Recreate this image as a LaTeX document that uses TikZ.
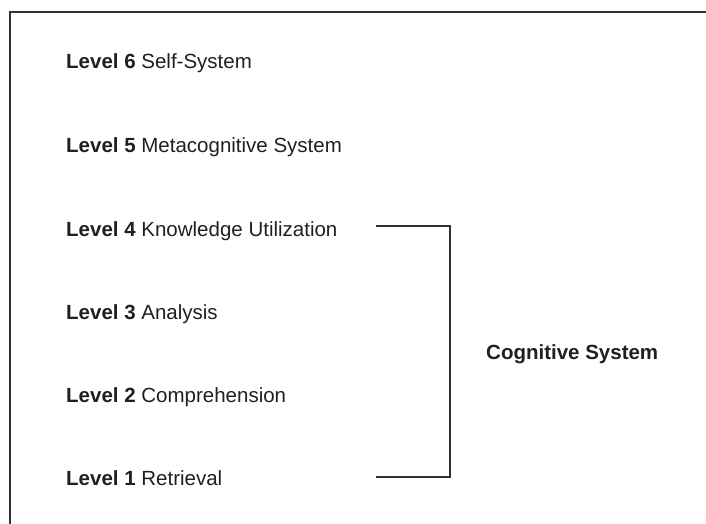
\documentclass[tikz,border=0pt]{standalone}
\usepackage{fontspec}
\setmainfont{Liberation Sans}
\definecolor{ink}{HTML}{231F20}
\definecolor{rule}{HTML}{333333}
\begin{document}
\begin{tikzpicture}[x=1pt,y=-1pt,
  lvl/.style={anchor=base west,inner sep=0pt,text=ink,font=\fontsize{20.5}{24}\selectfont},
  frame/.style={draw=rule,line width=1.4pt},
  brk/.style={draw=rule,line width=1.4pt}]
\useasboundingbox (0,0) rectangle (706,524);
\fill[white] (0,0) rectangle (706,524);
\draw[frame] (10,524) -- (10,12) -- (706,12);
\node[lvl] (l6) at (66,69) {\textbf{Level 6} Self-System};
\node[lvl] (l5) at (66,152.5) {\textbf{Level 5} Metacognitive System};
\node[lvl] (l4) at (66,236) {\textbf{Level 4} Knowledge Utilization};
\node[lvl] (l3) at (66,319) {\textbf{Level 3} Analysis};
\node[lvl] (l2) at (66,402) {\textbf{Level 2} Comprehension};
\node[lvl] (l1) at (66,485) {\textbf{Level 1} Retrieval};
\node[lvl] (cs) at (486,359) {\textbf{Cognitive System}};
\coordinate (bt) at (376,226);
\coordinate (bb) at (376,477);
\coordinate (bc) at (450,351.5);
\draw[brk] (bt) -| (bc) |- (bb);
\end{tikzpicture}
\end{document}
